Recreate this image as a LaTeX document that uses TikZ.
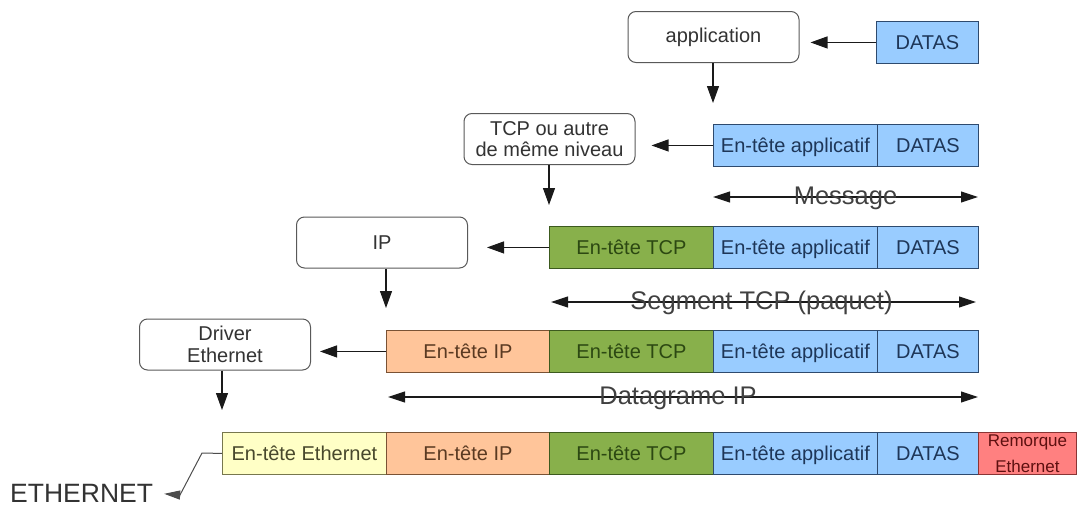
\documentclass[tikz,border=0pt]{standalone}
\usepackage{fontspec}
\setmainfont{Liberation Sans}
\usetikzlibrary{arrows.meta}

% cell palettes: fill, border, text
\definecolor{bluF}{HTML}{99CCFF}\definecolor{bluD}{HTML}{2E4A6E}\definecolor{bluT}{HTML}{1E3658}
\definecolor{grnF}{HTML}{88B04B}\definecolor{grnD}{HTML}{3C5A1E}\definecolor{grnT}{HTML}{2C4812}
\definecolor{orgF}{HTML}{FFC59A}\definecolor{orgD}{HTML}{7A5234}\definecolor{orgT}{HTML}{5A3A22}
\definecolor{yelF}{HTML}{FFFFC6}\definecolor{yelD}{HTML}{77774E}\definecolor{yelT}{HTML}{48482C}
\definecolor{redF}{HTML}{FF8080}\definecolor{redD}{HTML}{8A3434}\definecolor{redT}{HTML}{5E1010}
\definecolor{inkC}{HTML}{1A1A1A}

\begin{document}
\begin{tikzpicture}[x=1pt,y=-1pt,
  cell/.style={draw, line width=0.9pt, anchor=north west, minimum height=42pt,
    inner sep=0pt, text height=18pt, text depth=4pt, font=\fontsize{20}{22}\selectfont},
  bluecell/.style={cell, fill=bluF, draw=bluD, text=bluT},
  greencell/.style={cell, fill=grnF, draw=grnD, text=grnT},
  orangecell/.style={cell, fill=orgF, draw=orgD, text=orgT},
  yellowcell/.style={cell, fill=yelF, draw=yelD, text=yelT},
  redcell/.style={cell, fill=redF, draw=redD, text=redT, text height={}, text depth={}},
  layerbox/.style={draw=black!65, line width=1pt, rounded corners=8pt, fill=white,
    minimum width=171pt, minimum height=51pt, align=center, inner sep=2pt,
    text=black!80, font=\fontsize{20}{21.5}\selectfont},
  arr/.style={draw=inkC, line width=1.1pt, -{Triangle[length=17pt,width=12pt]}},
  spanarr/.style={draw=inkC, line width=1.1pt,
    {Triangle[length=17pt,width=11pt]}-{Triangle[length=17pt,width=11pt]}},
  spanlbl/.style={font=\fontsize{25.5}{28}\selectfont, text=black!75, anchor=base}
]
\useasboundingbox (0,0) rectangle (1078,506);

% protocol layers
\node[layerbox] (app) at (713.5,37) {application};
\node[layerbox] (tcp) at (549.5,139) {TCP ou autre\\de même niveau};
\node[layerbox] (ip)  at (382,242.5) {IP};
\node[layerbox] (drv) at (225,344.5) {Driver\\Ethernet};

% row 0: data alone
\node[bluecell, minimum width=102pt] (d0) at (876,21) {DATAS};

% row 1: message
\node[bluecell, minimum width=164pt] (a1) at (713,124) {En-tête applicatif};
\node[bluecell, minimum width=101pt] (d1) at (877,124) {DATAS};

% row 2: TCP segment
\node[greencell, minimum width=164pt] (t2) at (549,226) {En-tête TCP};
\node[bluecell, minimum width=164pt] (a2) at (713,226) {En-tête applicatif};
\node[bluecell, minimum width=101pt] (d2) at (877,226) {DATAS};

% row 3: IP datagram
\node[orangecell, minimum width=163pt] (i3) at (386,330) {En-tête IP};
\node[greencell, minimum width=164pt] (t3) at (549,330) {En-tête TCP};
\node[bluecell, minimum width=164pt] (a3) at (713,330) {En-tête applicatif};
\node[bluecell, minimum width=101pt] (d3) at (877,330) {DATAS};

% row 4: Ethernet frame
\node[yellowcell, minimum width=164pt] (e4) at (222,432) {En-tête Ethernet};
\node[orangecell, minimum width=163pt] (i4) at (386,432) {En-tête IP};
\node[greencell, minimum width=164pt] (t4) at (549,432) {En-tête TCP};
\node[bluecell, minimum width=164pt] (a4) at (713,432) {En-tête applicatif};
\node[bluecell, minimum width=101pt] (d4) at (877,432) {DATAS};
\node[redcell, minimum width=98pt, align=center,
  font=\fontsize{17}{26}\selectfont] (r4) at (978,432) {Remorque\\Ethernet};

% handing each unit to its layer
\draw[arr, shorten >=11pt] (d0.west) -- (d0.west -| app.east);
\draw[arr, shorten >=16pt] (a1.west) -- (a1.west -| tcp.east);
\draw[arr, shorten >=19pt] (t2.west) -- (t2.west -| ip.east);
\draw[arr, shorten >=9pt]  (i3.west) -- (i3.west -| drv.east);

% each layer adds its header
\draw[arr, shorten >=21pt] (app.south -| a1.north west) -- (a1.north west);
\draw[arr, shorten >=21pt] (tcp.south -| t2.north west) -- (t2.north west);
\draw[arr, shorten >=22pt] (ip.south -| i3.north west) -- (i3.north west);
\draw[arr, shorten >=22pt] (drv.south -| e4.north west) -- (e4.north west);

% spans
\coordinate (msgL) at (713,197);  \coordinate (msgR) at (978,197);
\coordinate (segL) at (551,302);  \coordinate (segR) at (976,302);
\coordinate (dgrL) at (388,397);  \coordinate (dgrR) at (978,397);
\draw[spanarr] (msgL) -- (msgR) node[spanlbl, midway, yshift=-7pt] {Message};
\draw[spanarr] (segL) -- (segR) node[spanlbl, midway, yshift=-7pt, xshift=-2pt] {Segment TCP (paquet)};
\draw[spanarr] (dgrL) -- (dgrR) node[spanlbl, midway, yshift=-7pt, xshift=-5pt] {Datagrame IP};

% out to the wire
\node[font=\fontsize{26.5}{28}\selectfont, text=black!80, anchor=base west, inner sep=0pt]
  (eth) at (10,502) {ETHERNET};
\draw[draw=black!70, line width=1pt, -{Triangle[length=16pt,width=9pt]}, shorten >=11pt]
  (e4.west) -- (202,453) -- (180,495) -- (eth.east |- 180,493);
\end{tikzpicture}
\end{document}
